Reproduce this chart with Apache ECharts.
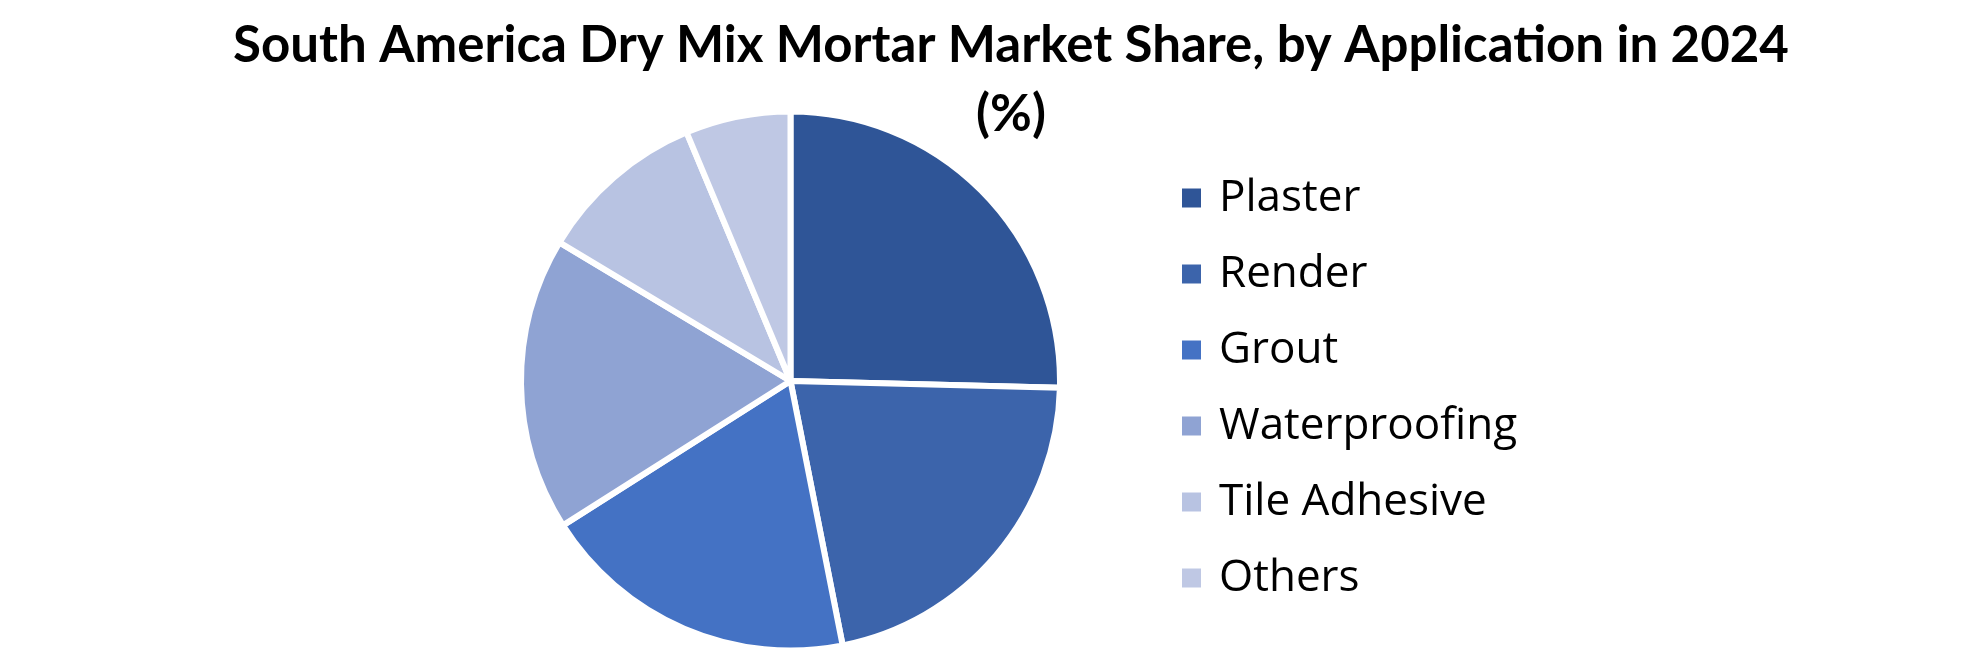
<!DOCTYPE html>
<html>
<head>
<meta charset="utf-8">
<script src="https://cdn.jsdelivr.net/npm/echarts@6/dist/echarts.min.js"></script>
<style>
html,body{margin:0;padding:0;background:#fff;}
#chart{width:1980px;height:654px;}
</style>
</head>
<body>
<div id="chart"></div>
<script>
const titleText = "South America Dry Mix Mortar Market Share, by Application in 2024\n(%)";
const categories = ["Plaster", "Render", "Grout", "Waterproofing", "Tile Adhesive", "Others"];
const shares = [25.4, 21.5, 19.1, 17.6, 10.1, 6.3];
const colors = ["#2F5597", "#3C64AB", "#4472C4", "#8FA3D3", "#B8C3E2", "#BFC8E4"];

const chart = echarts.init(document.getElementById('chart'));
chart.setOption({
  backgroundColor: '#ffffff',
  animation: false,
  title: {
    text: titleText,
    left: 1006,
    textAlign: 'center',
    top: 6,
    textStyle: {
      fontFamily: "'Lato', sans-serif",
      fontWeight: 'bold',
      fontSize: 51,
      lineHeight: 69,
      color: '#000000'
    }
  },
  legend: {
    orient: 'vertical',
    left: 1175,
    top: 171,
    itemWidth: 21,
    itemHeight: 21,
    itemGap: 32,
    icon: 'rect',
    data: categories,
    textStyle: {
      fontFamily: "'Open Sans', sans-serif",
      fontSize: 44,
      lineHeight: 44,
      color: '#000000',
      padding: [0, 0, 0, 12]
    }
  },
  series: [{
    type: 'pie',
    center: [790.5, 381],
    radius: [0, 269.5],
    startAngle: 90,
    clockwise: true,
    label: { show: false },
    labelLine: { show: false },
    emphasis: { disabled: true },
    itemStyle: { borderColor: '#ffffff', borderWidth: 6 },
    data: categories.map((c, i) => ({ name: c, value: shares[i], itemStyle: { color: colors[i] } }))
  }]
});
</script>
</body>
</html>
